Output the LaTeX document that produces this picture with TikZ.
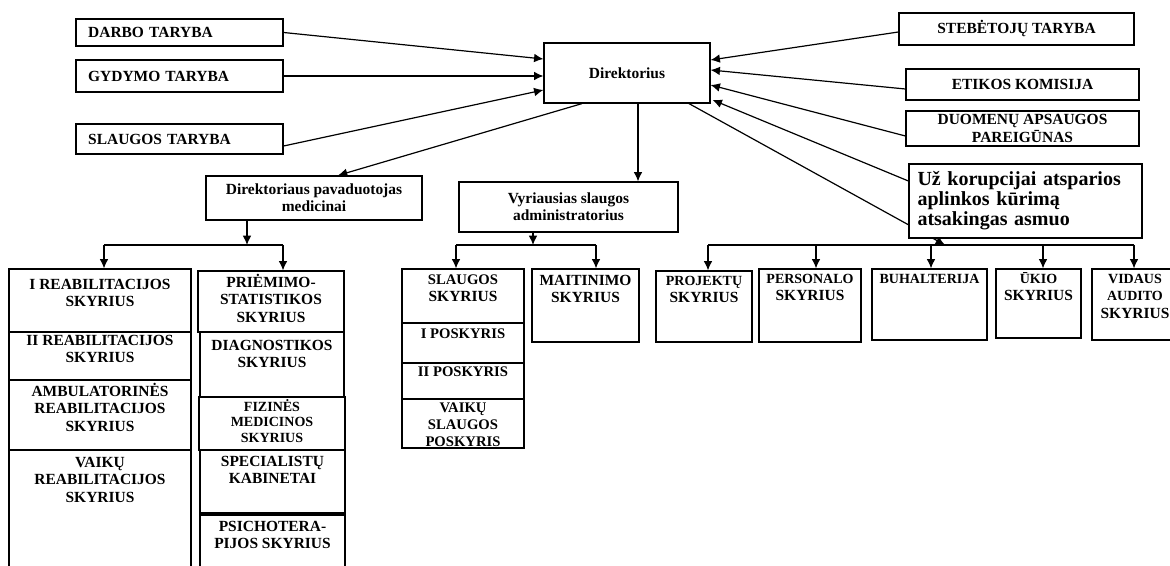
\documentclass[tikz,border=0pt]{standalone}
\usepackage{fontspec}
\setmainfont{Liberation Serif}
\usepackage{tikz}
\usetikzlibrary{arrows.meta,positioning,fit,calc}
\newcommand{\fontnorm}{\fontsize{11.6}{12.9}\selectfont\bfseries}
\newcommand{\fontsmall}{\fontsize{10.5}{11.6}\selectfont\bfseries}
\newcommand{\fontmid}{\fontsize{11}{12.4}\selectfont\bfseries}
\newcommand{\fontbig}{\fontsize{15}{15}\selectfont\bfseries}

\begin{document}
\begin{tikzpicture}[
  x=0.75pt,y=-0.75pt,
  box/.style={draw,line width=0.9pt,inner sep=0pt,align=center,font=\fontnorm},
  cell/.style={draw,line width=0.9pt,inner sep=0pt},
  txt/.style={anchor=north,inner sep=0pt,align=center},
  wh/.style 2 args={minimum width=#1*0.75pt,minimum height=#2*0.75pt},
  lbox/.style={text width=#1,inner xsep=9pt,align=left},
  arr/.style={-{Latex[length=7pt,width=6.5pt]},line width=0.9pt},
  link/.style={line width=0.9pt}
]
\useasboundingbox (0,0) rectangle (1170,566);
\clip (0,0) rectangle (1170,566);
\fill[white] (0,0) rectangle (1170,566);
% upper level
\node[box,wh={207}{27},lbox=137pt] (darbo) at (179.5,32.5) {DARBO TARYBA};
\node[box,wh={207}{32},lbox=137pt] (gydymo) at (179.5,76) {GYDYMO TARYBA};
\node[box,wh={207}{30},lbox=137pt] (slaugt) at (179.5,139) {SLAUGOS TARYBA};
\node[box,wh={166}{60}] (dir) at (627,73) {Direktorius};
\node[box,wh={235}{32}] (steb) at (1016.5,29) {STEBĖTOJŲ TARYBA};
\node[box,wh={233}{31}] (etik) at (1022.5,84.5) {ETIKOS KOMISIJA};
\node[box,wh={233}{35}] (duom) at (1022.5,128.5) {DUOMENŲ APSAUGOS\\PAREIGŪNAS};
\node[box,wh={216}{44}] (pav) at (314,198) {Direktoriaus pavaduotojas\\medicinai};
\node[box,wh={219}{50}] (vyr) at (568.5,207) {Vyriausias slaugos\\administratorius};
% departments
\foreach \nm/\xa/\ya/\xb/\yb/\off/\fnt/\txt in {
  r1/9/269/191/332/7/\fontnorm/{I REABILITACIJOS\\SKYRIUS},
  r2/9/332/191/380/0/\fontnorm/{II REABILITACIJOS\\SKYRIUS},
  r3/9/380/191/450/3/\fontnorm/{AMBULATORINĖS\\REABILITACIJOS\\SKYRIUS},
  r4/9/450/191/580/4/\fontnorm/{VAIKŲ\\REABILITACIJOS\\SKYRIUS},
  c1/198/271/344/332/3/\fontnorm/{PRIĖMIMO-\\STATISTIKOS\\SKYRIUS},
  c2/200/332/344/397/5/\fontnorm/{DIAGNOSTIKOS\\SKYRIUS},
  c3/199/397/345/450/2/\fontsmall/{FIZINĖS\\MEDICINOS\\SKYRIUS},
  c4/200/450/345/513/3/\fontnorm/{SPECIALISTŲ\\KABINETAI},
  c5/200/515/345/580/3/\fontnorm/{PSICHOTERA-\\PIJOS SKYRIUS},
  s1/402/269/524/323/2/\fontnorm/{{\fontmid SLAUGOS}\\SKYRIUS},
  s2/402/323/524/363/3/\fontmid/{I POSKYRIS},
  s3/402/363/524/399/1/\fontmid/{II POSKYRIS},
  s4/402/399/524/448/1/\fontmid/{VAIKŲ\\SLAUGOS\\POSKYRIS},
  mait/532/269/639/342/3/\fontnorm/{MAITINIMO\\SKYRIUS},
  proj/656/271/752/342/1/\fontnorm/{{\fontsmall PROJEKTŲ}\\SKYRIUS},
  pers/759/269/861/342/1/\fontnorm/{{\fontsmall PERSONALO}\\SKYRIUS},
  buh/872/269/987/340/1/\fontnorm/{{\fontsmall BUHALTERIJA}},
  ukio/996/269/1081/338/1/\fontnorm/{{\fontsmall ŪKIO}\\SKYRIUS},
  vid/1092/269/1178/340/1/\fontnorm/{{\fontsmall VIDAUS}\\{\fontsmall AUDITO}\\SKYRIUS}}
{
  \node[cell,fit={(\xa,\ya) (\xb,\yb)}] (\nm) {};
  \node[txt,font=\fnt] (\nm-t) at ($(\nm.north)+(0,\off)$) {\rule{0pt}{0.905em}\txt};
}
% pavaduotojas branch
\coordinate (pj) at (247,245);
\coordinate (pl) at (104,245);
\coordinate (pr) at (283,245);
\draw[arr] (pj |- pav.south) -- (pj);
\draw[link] (pl) -- (pr);
\foreach \p/\q in {pl/r1,pr/c1} \draw[arr] (\p) -- (\p |- \q.north);
% slaugos branch
\coordinate (vj) at (533,245);
\coordinate (vl) at (456,245);
\coordinate (vr) at (596,245);
\draw[arr] (vj |- vyr.south) -- (vj);
\draw[link] (vl) -- (vr);
\foreach \p/\q in {vl/s1,vr/mait} \draw[arr] (\p) -- (\p |- \q.north);
% services branch
\coordinate (k1) at (708,245);
\coordinate (k2) at (816,245);
\coordinate (k3) at (931,245);
\coordinate (k4) at (1043,245);
\coordinate (k5) at (1134,245);
\coordinate (kd) at (945,245);
\draw[link] (k1) -- (k5);
\foreach \p/\q in {k1/proj,k2/pers,k3/buh,k4/ukio,k5/vid} \draw[arr] (\p) -- (\p |- \q.north);
\draw[arr] ($(dir.south)+(62,0)$) -- (kd);
\node[box,wh={233}{74},text width=162pt,inner xsep=6pt,align=left,fill=white,font=\fontbig] (uz) at (1025.5,201) {Už korupcijai atsparios\\aplinkos kūrimą\\atsakingas asmuo};
% links to Direktorius
\draw[arr] (darbo.east) -- ($(dir.west)+(0,-14)$);
\draw[arr] (gydymo.east) -- (gydymo.east -| dir.west);
\draw[arr] ($(slaugt.east)+(0,7)$) -- ($(dir.west)+(0,17)$);
\draw[arr] ($(steb.west)+(0,3)$) -- ($(dir.east)+(0,-13)$);
\draw[arr] ($(etik.west)+(0,4.5)$) -- ($(dir.east)+(0,-3)$);
\draw[arr] ($(duom.west)+(0,7.5)$) -- ($(dir.east)+(0,12)$);
\draw[arr] ($(uz.west)+(0,-20)$) -- ($(dir.east)+(2,27)$);
\draw[arr] ($(dir.south)+(-45,0)$) -- ($(pav.north)+(24,0)$);
\coordinate (dv) at ($(dir.south)+(11,0)$);
\draw[arr] (dv) -- (dv |- vyr.north);
\end{tikzpicture}
\end{document}
